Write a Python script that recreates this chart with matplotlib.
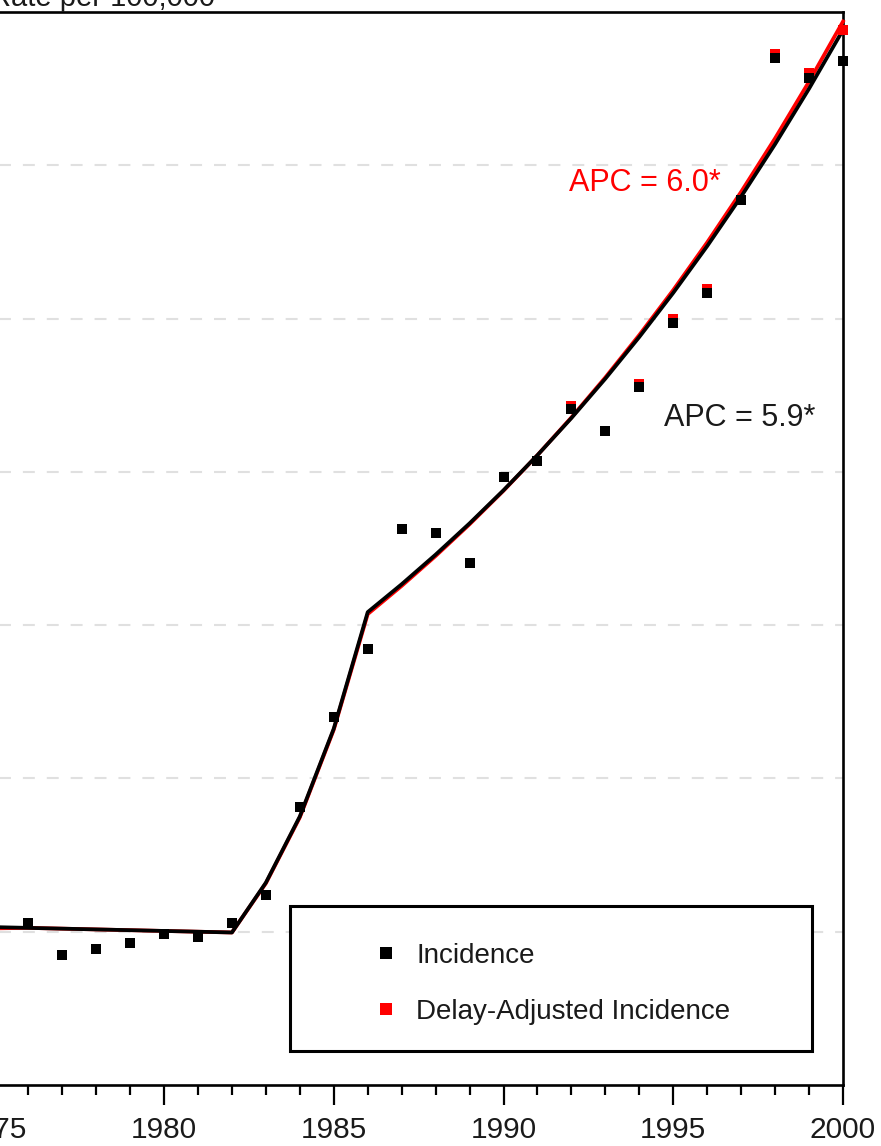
import matplotlib
matplotlib.use('Agg')
import matplotlib.pyplot as plt
from matplotlib.patches import Rectangle
from matplotlib.lines import Line2D

plt.rcParams['font.family'] = ['Liberation Sans', 'DejaVu Sans']
plt.rcParams['lines.scale_dashes'] = False

# valores (tasa por 100.000)
years = list(range(1975, 2001))
incidence = [1.142, 1.057, 0.848, 0.887, 0.926, 0.985, 0.965, 1.057, 1.239, 1.813,
             2.400, 2.844, 3.627, 3.601, 3.405, 3.966, 4.070, 4.410, 4.266, 4.553,
             4.971, 5.166, 5.773, 6.699, 6.569, 6.680]
delay_adj = [1.142, 1.057, 0.848, 0.887, 0.926, 0.985, 0.965, 1.057, 1.239, 1.813,
             2.400, 2.844, 3.627, 3.601, 3.405, 3.966, 4.070, 4.430, 4.266, 4.573,
             4.996, 5.191, 5.773, 6.725, 6.599, 6.880]
# lineas de joinpoint
fit_incidence = [1.030, 1.025, 1.020, 1.015, 1.010, 1.005, 1.000, 0.995, 1.320, 1.752,
                 2.325, 3.085, 3.267, 3.460, 3.664, 3.880, 4.109, 4.351, 4.608, 4.880,
                 5.168, 5.473, 5.796, 6.138, 6.500, 6.883]
fit_delay = [1.022, 1.025, 1.020, 1.015, 1.010, 1.005, 1.000, 0.995, 1.316, 1.746,
             2.318, 3.072, 3.256, 3.451, 3.658, 3.877, 4.109, 4.355, 4.616, 4.893,
             5.186, 5.497, 5.827, 6.176, 6.546, 6.938]

apc_delay = 'APC = 6.0*'
apc_incidence = 'APC = 5.9*'

W, H = 881, 1146
fig = plt.figure(figsize=(W / 100, H / 100), dpi=100)

# el eje izquierdo queda fuera de la imagen (recorte del original)
x_left_px = -22.7
ax = fig.add_axes([x_left_px / W, 1 - 1085 / H, (843 - x_left_px) / W, (1085 - 12) / H])
ax.set_xlim(1974.5, 2000)
ax.set_ylim(0, 7)

ax.plot(years, fit_delay, color='red', lw=2.7, zorder=3, clip_on=False)
ax.plot(years, fit_incidence, color='black', lw=2.7, zorder=4, clip_on=False)
ax.plot(years, delay_adj, 's', color='red', ms=6.7, mew=0, zorder=5, clip_on=False)
ax.plot(years, incidence, 's', color='black', ms=6.7, mew=0, zorder=6, clip_on=False)

ax.text(1991.93, 5.884, apc_delay, color='red', fontsize=22, va='center', ha='left')
ax.text(1994.73, 4.351, apc_incidence, color='#1a1a1a', fontsize=22, va='center', ha='left')

# ejes
ax.set_xticks(range(1975, 2001, 5))
ax.set_xticks(range(1975, 2001), minor=True)
ax.set_yticks(range(1, 7))
ax.tick_params(axis='y', left=False, labelleft=False)
ax.tick_params(axis='x', which='major', length=14.4, width=1.6, labelsize=21.5,
               pad=8, labelcolor='#1a1a1a')
ax.tick_params(axis='x', which='minor', length=7.2, width=1.6)
for s in ax.spines.values():
    s.set_linewidth(1.9)
ax.grid(axis='y', color='#e0e0e0', lw=1.5, dashes=(8.6, 8.6))
ax.set_axisbelow(True)

# leyenda
box = Rectangle((290 / W, 1 - 1051 / H), (812 - 290) / W, (1051 - 906) / H,
                transform=fig.transFigure, facecolor='white', edgecolor='black',
                lw=2.2, zorder=10)
fig.patches.append(box)
handles = [Line2D([], [], marker='s', ls='none', color='black', ms=9, mew=0),
           Line2D([], [], marker='s', ls='none', color='red', ms=9, mew=0)]
leg = fig.legend(handles, ['Incidence', 'Delay-Adjusted Incidence'],
                 loc='upper left', bbox_to_anchor=(372 / W, 1 - 943 / H),
                 frameon=False, fontsize=20, borderpad=0, handlelength=1.0,
                 handletextpad=0.6, labelspacing=1.07, borderaxespad=0)
for t in leg.get_texts():
    t.set_color('#1a1a1a')
leg.set_zorder(11)

fig.text(-10 / W, 1 - 6 / H, 'Rate per 100,000', fontsize=21, va='baseline',
         ha='left', color='#1a1a1a')

fig.savefig('out.png', dpi=100)
